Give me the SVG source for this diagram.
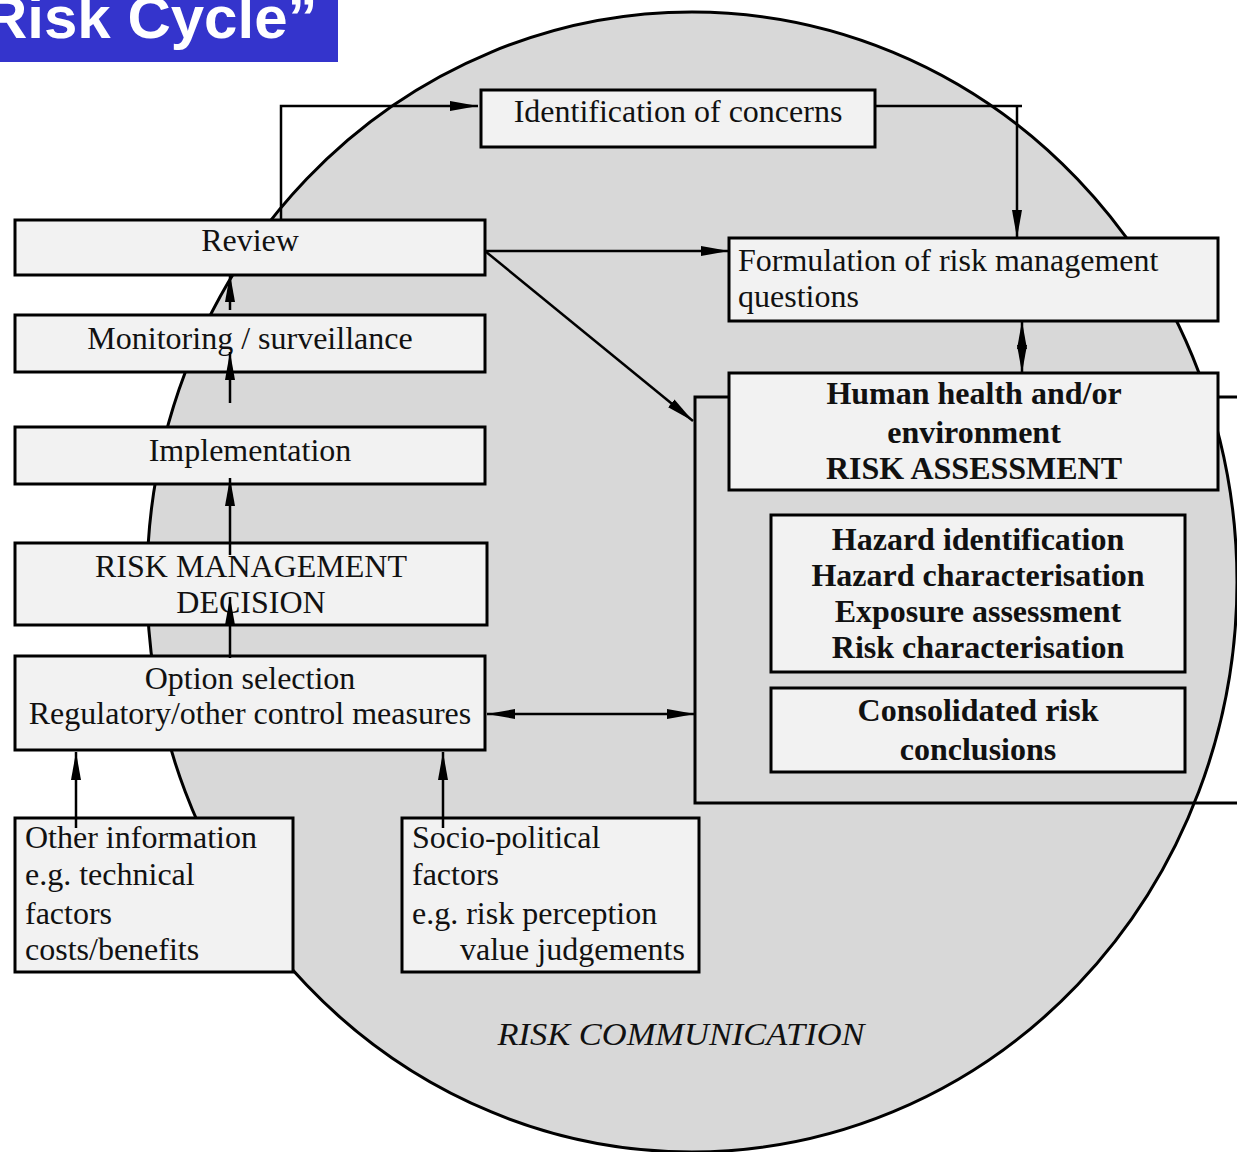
<svg xmlns="http://www.w3.org/2000/svg" width="1237" height="1152" viewBox="0 0 1237 1152">
<style>
.box{fill:#f2f2f2;stroke:#000;stroke-width:3}
.t{font-family:"Liberation Serif","Times New Roman",serif;font-size:32px;fill:#111}
.b{font-weight:bold}
.c{text-anchor:middle}
.ln{fill:none;stroke:#000;stroke-width:2.5}
</style>
<defs>
<marker id="ah" viewBox="0 0 28 12" refX="28" refY="6" markerWidth="28" markerHeight="12" markerUnits="userSpaceOnUse" orient="auto-start-reverse">
<path d="M0,1 L28,6 L0,11 z" fill="#000"/>
</marker>
</defs>
<rect width="1237" height="1152" fill="#fff"/>
<ellipse cx="692" cy="582" rx="545" ry="570" fill="#d8d8d8" stroke="#000" stroke-width="3"/>
<g id="title">
<rect x="0" y="0" width="338" height="62" fill="#3434cc"/>
<text x="-16" y="38" font-family="Liberation Sans,Arial,sans-serif" font-weight="bold" font-size="60" fill="#fff">Risk Cycle”</text>
</g>
<g id="ra-frame"><rect x="695" y="397" width="600" height="406" fill="none" stroke="#000" stroke-width="3"/></g>
<g id="identification"><rect class="box" x="481" y="90" width="394" height="57"/><text class="t c" x="678" y="122">Identification of concerns</text></g>
<g id="review"><rect class="box" x="15" y="220" width="470" height="55"/><text class="t c" x="250" y="251">Review</text></g>
<g id="monitoring"><rect class="box" x="15" y="315" width="470" height="57"/><text class="t c" x="250" y="349">Monitoring / surveillance</text></g>
<g id="implementation"><rect class="box" x="15" y="427" width="470" height="57"/><text class="t c" x="250" y="461">Implementation</text></g>
<g id="rmd"><rect class="box" x="15" y="543" width="472" height="82"/><text class="t c" x="251" y="577">RISK MANAGEMENT</text><text class="t c" x="251" y="613">DECISION</text></g>
<g id="option"><rect class="box" x="15" y="656" width="470" height="94"/><text class="t c" x="250" y="689">Option selection</text><text class="t c" x="250" y="724">Regulatory/other control measures</text></g>
<g id="other-info"><rect class="box" x="15" y="818" width="278" height="154"/><text class="t" x="25" y="848">Other information</text><text class="t" x="25" y="885">e.g. technical</text><text class="t" x="25" y="924">factors</text><text class="t" x="25" y="960">costs/benefits</text></g>
<g id="socio"><rect class="box" x="402" y="818" width="297" height="154"/><text class="t" x="412" y="848">Socio-political</text><text class="t" x="412" y="885">factors</text><text class="t" x="412" y="924">e.g. risk perception</text><text class="t" x="460" y="960">value judgements</text></g>
<g id="formulation"><rect class="box" x="729" y="238" width="489" height="83"/><text class="t" x="738" y="271">Formulation of risk management</text><text class="t" x="738" y="307">questions</text></g>
<g id="risk-assessment"><rect class="box" x="729" y="373" width="489" height="117"/><text class="t b c" x="974" y="404">Human health and/or</text><text class="t b c" x="974" y="443">environment</text><text class="t b c" x="974" y="479">RISK ASSESSMENT</text></g>
<g id="hazard"><rect class="box" x="771" y="515" width="414" height="157"/><text class="t b c" x="978" y="550">Hazard identification</text><text class="t b c" x="978" y="586">Hazard characterisation</text><text class="t b c" x="978" y="622">Exposure assessment</text><text class="t b c" x="978" y="658">Risk characterisation</text></g>
<g id="consolidated"><rect class="box" x="771" y="688" width="414" height="84"/><text class="t b c" x="978" y="721">Consolidated risk</text><text class="t b c" x="978" y="760">conclusions</text></g>
<g id="risk-communication"><text class="t c" x="681" y="1045" font-style="italic" textLength="367" lengthAdjust="spacingAndGlyphs">RISK COMMUNICATION</text></g>
<g id="connectors">
<polyline class="ln" points="281,220 281,106 478,106" marker-end="url(#ah)"/>
<polyline class="ln" points="875,106 1022,106"/>
<line class="ln" x1="1017" y1="106" x2="1017" y2="238" marker-end="url(#ah)"/>
<line class="ln" x1="485" y1="251" x2="729" y2="251" marker-end="url(#ah)"/>
<line class="ln" x1="485" y1="251" x2="693" y2="421" marker-end="url(#ah)"/>
<line class="ln" x1="1022" y1="321" x2="1022" y2="373" marker-start="url(#ah)" marker-end="url(#ah)"/>
<line class="ln" x1="487" y1="714" x2="695" y2="714" marker-start="url(#ah)" marker-end="url(#ah)"/>
<line class="ln" x1="230" y1="310" x2="230" y2="274" marker-end="url(#ah)"/>
<line class="ln" x1="230" y1="403" x2="230" y2="352" marker-end="url(#ah)"/>
<line class="ln" x1="230" y1="555" x2="230" y2="478" marker-end="url(#ah)"/>
<line class="ln" x1="230" y1="658" x2="230" y2="597" marker-end="url(#ah)"/>
<line class="ln" x1="76" y1="828" x2="76" y2="752" marker-end="url(#ah)"/>
<line class="ln" x1="443" y1="828" x2="443" y2="752" marker-end="url(#ah)"/>
</g>
</svg>
